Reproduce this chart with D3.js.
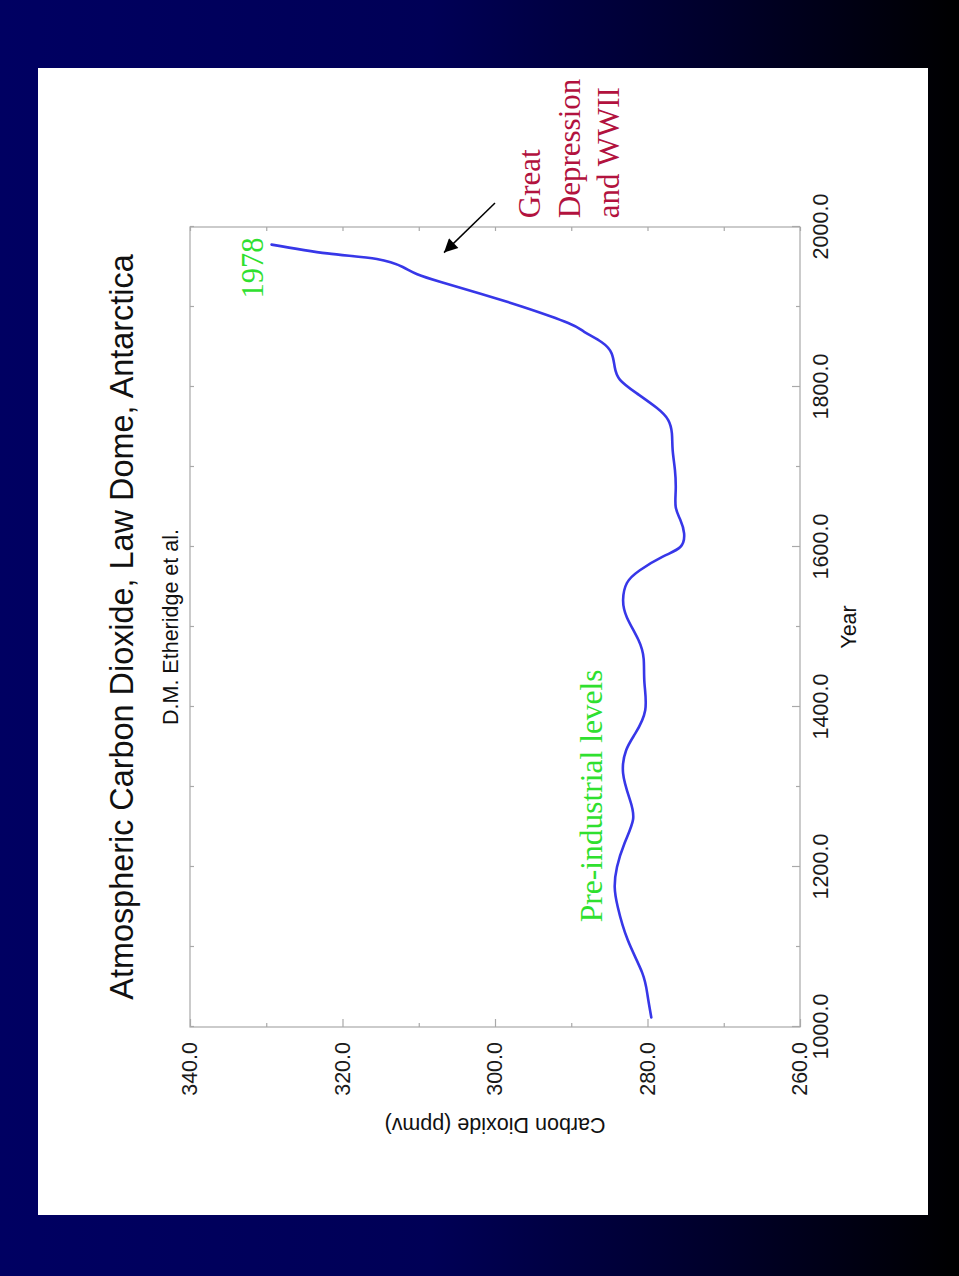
<!DOCTYPE html>
<html>
<head>
<meta charset="utf-8">
<script src="https://cdn.jsdelivr.net/npm/d3@7"></script>
<style>
  html, body { margin: 0; padding: 0; background: #000; }
  svg { display: block; }
</style>
</head>
<body>
<script>
// Law Dome ice-core CO2 record (smoothed), years AD and ppmv
const years = [1012, 1040, 1068, 1109, 1150, 1175, 1200, 1230, 1259, 1284, 1317, 1346, 1367, 1396,
  1430, 1460, 1484, 1512, 1534, 1555, 1571, 1588, 1600, 1617, 1634, 1650, 1671, 1696, 1721, 1742,
  1759, 1774, 1792, 1809, 1825, 1842, 1856, 1869, 1880, 1900, 1917, 1931, 1941, 1950, 1960, 1967, 1978];
const co2 = [279.5, 280.0, 280.7, 282.6, 283.9, 284.3, 284.0, 283.0, 281.9, 282.3, 283.2, 282.8, 281.6, 280.3,
  280.4, 280.5, 281.2, 282.7, 283.2, 282.7, 281.0, 278.0, 275.7, 275.2, 275.7, 276.3, 276.3, 276.4, 276.7, 276.8,
  277.3, 278.8, 281.4, 283.6, 284.3, 284.7, 286.0, 288.3, 290.4, 296.3, 302.0, 307.0, 310.2, 312.1, 315.5, 322.0, 329.3];

const yearTicks = [1000, 1200, 1400, 1600, 1800, 2000];
const yearMinorTicks = [1100, 1300, 1500, 1700, 1900];
const co2Ticks = [260, 280, 300, 320, 340];
const co2MinorTicks = [270, 290, 310, 330];

const titleText = "Atmospheric Carbon Dioxide, Law Dome, Antarctica";
const subtitleText = "D.M. Etheridge et al.";
const xTitle = "Year";
const yTitle = "Carbon Dioxide (ppmv)";
const endLabel = "1978";
const baselineLabel = "Pre-industrial levels";
const eventLines = ["Great", "Depression", "and WWII"];

const data = years.map((yr, i) => ({ year: yr, co2: co2[i] }));

const W = 959, H = 1276;
const svg = d3.select("body").append("svg").attr("width", W).attr("height", H);

// slide background
const defs = svg.append("defs");
const grad = defs.append("linearGradient").attr("id", "bg").attr("x1", 0).attr("x2", 1).attr("y1", 0).attr("y2", 0);
grad.append("stop").attr("offset", "0%").attr("stop-color", "#000062");
grad.append("stop").attr("offset", "45%").attr("stop-color", "#000056");
grad.append("stop").attr("offset", "75%").attr("stop-color", "#00002a");
grad.append("stop").attr("offset", "100%").attr("stop-color", "#000000");
svg.append("rect").attr("width", W).attr("height", H).attr("fill", "url(#bg)");
svg.append("rect").attr("x", 38).attr("y", 68).attr("width", 890).attr("height", 1147).attr("fill", "#fff");

defs.append("marker").attr("id", "arrowhead")
  .attr("viewBox", "0 0 10 10").attr("refX", 10).attr("refY", 5)
  .attr("markerWidth", 10).attr("markerHeight", 9).attr("markerUnits", "strokeWidth")
  .attr("orient", "auto")
  .append("path").attr("d", "M0,0 L10,5 L0,10 Z").attr("fill", "#000");

// plot area, laid out as a normal chart then turned a quarter turn
const pw = 800, ph = 610;
const g = svg.append("g").attr("transform", "translate(190,1027) rotate(-90)");

const x = d3.scaleLinear().domain([1000, 2000]).range([0, pw]);
const y = d3.scaleLinear().domain([260, 340]).range([ph, 0]);
const fmt = d3.format(".1f");

const sans = "'Liberation Sans', Arial, Helvetica, sans-serif";
const serif = "'Liberation Serif', 'Times New Roman', serif";
const axisGrey = "#a9a9a9";

g.append("rect").attr("width", pw).attr("height", ph)
  .attr("fill", "none").attr("stroke", axisGrey).attr("stroke-width", 1.2);

function styleAxis(sel) {
  sel.select(".domain").remove();
  sel.selectAll(".tick line").attr("stroke", axisGrey).attr("stroke-width", 1.2);
  sel.selectAll(".tick text").attr("fill", "#1a1a1a")
    .style("font-family", sans).style("font-size", "21.5px");
}

g.append("g").attr("transform", `translate(0,${ph})`)
  .call(d3.axisBottom(x).tickValues(yearTicks).tickFormat(fmt).tickSizeInner(-8).tickSizeOuter(0).tickPadding(13))
  .call(styleAxis);
g.append("g").attr("transform", `translate(0,${ph})`)
  .call(d3.axisBottom(x).tickValues(yearMinorTicks).tickFormat("").tickSizeInner(-4).tickSizeOuter(0))
  .call(styleAxis);
g.append("g")
  .call(d3.axisTop(x).tickValues(yearTicks.concat(yearMinorTicks)).tickFormat("").tickSizeInner(-4).tickSizeOuter(0))
  .call(styleAxis);

g.append("g")
  .call(d3.axisLeft(y).tickValues(co2Ticks).tickFormat(fmt).tickSizeInner(-8).tickSizeOuter(0).tickPadding(15))
  .call(styleAxis);
g.append("g")
  .call(d3.axisLeft(y).tickValues(co2MinorTicks).tickFormat("").tickSizeInner(-4).tickSizeOuter(0))
  .call(styleAxis);
g.append("g").attr("transform", `translate(${pw},0)`)
  .call(d3.axisRight(y).tickValues(co2Ticks.concat(co2MinorTicks)).tickFormat("").tickSizeInner(-4).tickSizeOuter(0))
  .call(styleAxis);

// titles
g.append("text").attr("x", pw / 2).attr("y", -57).attr("text-anchor", "middle")
  .style("font-family", sans).style("font-size", "32.4px").attr("fill", "#111").text(titleText);
g.append("text").attr("x", pw / 2).attr("y", -12).attr("text-anchor", "middle")
  .style("font-family", sans).style("font-size", "21.5px").attr("fill", "#111").text(subtitleText);
g.append("text").attr("x", pw / 2).attr("y", ph + 56).attr("text-anchor", "middle")
  .style("font-family", sans).style("font-size", "21.5px").attr("fill", "#111").text(xTitle);
g.append("text").attr("transform", `translate(-91,${y(300)}) rotate(-90)`).attr("text-anchor", "middle")
  .style("font-family", sans).style("font-size", "21.5px").attr("fill", "#111").text(yTitle);

// CO2 curve
const line = d3.line().x(d => x(d.year)).y(d => y(d.co2)).curve(d3.curveNatural);
g.append("path").datum(data).attr("d", line)
  .attr("fill", "none").attr("stroke", "#3737e8").attr("stroke-width", 2.6)
  .attr("stroke-linejoin", "round").attr("stroke-linecap", "round");

// annotations
const last = data[data.length - 1];
g.append("text").attr("x", x(last.year) + 7).attr("y", y(last.co2) - 9).attr("text-anchor", "end")
  .style("font-family", serif).style("font-size", "30.5px").attr("fill", "#2fe02f").text(endLabel);

g.append("text").attr("x", x(1131)).attr("y", y(286)).attr("text-anchor", "start")
  .style("font-family", serif).style("font-size", "31.5px").attr("fill", "#2fe02f").text(baselineLabel);

const ev = g.append("text").style("font-family", serif).style("font-size", "31px").attr("fill", "#b2123e");
eventLines.forEach((t, i) => {
  ev.append("tspan").attr("x", x(2011)).attr("y", 350 + i * 39.5).text(t);
});

g.append("line")
  .attr("x1", x(2030)).attr("y1", 305)
  .attr("x2", x(1968)).attr("y2", 254)
  .attr("stroke", "#000").attr("stroke-width", 1.5)
  .attr("marker-end", "url(#arrowhead)");
</script>
</body>
</html>
